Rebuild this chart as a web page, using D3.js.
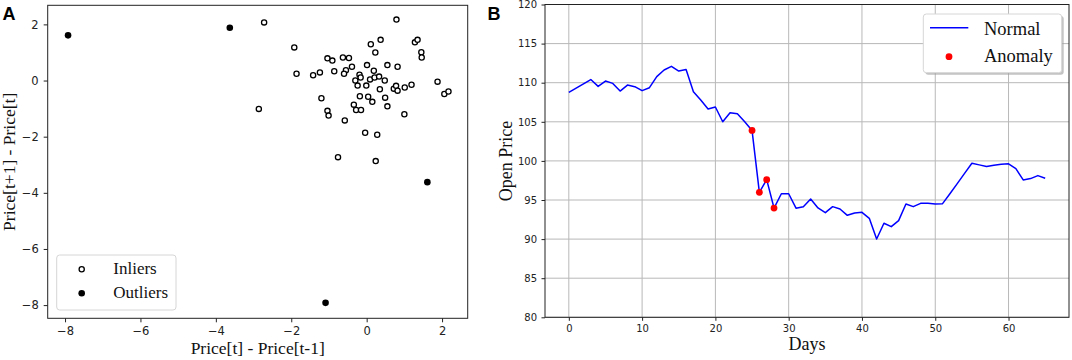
<!DOCTYPE html>
<html>
<head>
<meta charset="utf-8">
<script src="https://cdn.jsdelivr.net/npm/d3@7"></script>
<style>
  body { margin: 0; background: #fff; }
  .tick text { font-family: "DejaVu Sans", sans-serif; fill: #222; }
  .lbl { font-family: "Liberation Serif", "Times New Roman", serif; fill: #111; }
  .panel { font-family: "Liberation Sans", Arial, sans-serif; font-weight: bold; font-size: 18px; }
</style>
</head>
<body>
<div id="app"></div>
<script>
// panel A: lag scatter (price differences)
const inlierX = [-2.72, 0.79, -1.92, 0.37, 0.11, 0.23, 1.28, 1.35, 1.45, 1.46,
  -1.04, -0.91, -0.63, -0.47, -0.39, -0.55, -0.60, -0.86, -1.24, -1.42,
  -1.86, 0.01, 0.55, 0.82, 0.19, -0.19, -0.16, -0.30, -0.24, 0.09,
  0.21, 0.33, 0.48, -0.01, 0.35, 0.72, 0.78, 0.82, 1.01, 1.19,
  1.88, 2.06, 2.17, -1.20, -0.18, 0.04, 0.15, 0.49, 0.55, -0.34,
  -0.28, -0.15, -1.04, -1.01, -2.86, 1.00, -0.58, -0.04, 0.28, -0.76, 0.24];
const inlierY = [2.07, 2.17, 1.18, 1.45, 1.29, 1.00, 1.36, 1.45, 1.01, 0.82,
  0.79, 0.71, 0.82, 0.80, 0.49, 0.37, 0.24, 0.33, 0.29, 0.19,
  0.24, 0.55, 0.55, 0.49, 0.35, 0.21, 0.11, 0.00, -0.18, 0.04,
  0.11, 0.14, 0.00, -0.18, -0.31, -0.29, -0.19, -0.36, -0.25, -0.15,
  -0.04, -0.48, -0.39, -0.63, -0.56, -0.58, -0.76, -0.61, -0.92, -0.86,
  -1.05, -1.05, -1.08, -1.25, -1.01, -1.20, -1.42, -1.86, -1.93, -2.73, -2.87];
const outlierX = [-7.92, -3.63, 1.61, -1.09];
const outlierY = [1.61, 1.88, -3.62, -7.92];
const ticksA = [-8, -6, -4, -2, 0, 2];

// panel B: open price per day
const openPrice = [108.76, 109.3, 109.85, 110.4, 109.53, 110.21, 109.91, 108.93, 109.70, 109.49,
  108.98, 109.36, 110.77, 111.62, 112.09, 111.49, 111.70, 108.85, 107.78, 106.63,
  106.89, 105.01, 106.16, 106.04, 105.0, 103.9, 95.98, 97.6, 93.97, 95.8,
  95.8, 93.95, 94.15, 95.13, 93.98, 93.38, 94.15, 93.85, 93.04, 93.34,
  93.42, 92.66, 90.01, 92.02, 91.59, 92.36, 94.49, 94.15, 94.57, 94.57,
  94.49, 94.53, 95.8, 97.1, 98.4, 99.7, 99.49, 99.28, 99.45, 99.57,
  99.62, 99.02, 97.57, 97.74, 98.12, 97.78];
const anomalyDays = [25, 26, 27, 28];
const dayTicks = [0, 10, 20, 30, 40, 50, 60];
const priceTicks = [80, 85, 90, 95, 100, 105, 110, 115, 120];

let svg = d3.select("#app").append("svg")
    .attr("width", 1072)
    .attr("height", 360);

// ---------- A ----------
let xA = d3.scaleLinear().domain([-8.46, 2.68]).range([47.7, 467.7]);
let yA = d3.scaleLinear().domain([-8.47, 2.68]).range([318.3, 5.3]);

let gA = svg.append("g");

gA.append("g")
    .attr("transform", "translate(0,318.3)")
    .call(d3.axisBottom(xA).tickValues(ticksA).tickSize(4).tickPadding(5))
    .call(g => g.selectAll("text").style("font-size", "11.5px"));
gA.append("g")
    .attr("transform", "translate(47.7,0)")
    .call(d3.axisLeft(yA).tickValues(ticksA).tickSize(4).tickPadding(5))
    .call(g => g.selectAll("text").style("font-size", "11.5px"));
gA.selectAll(".domain").remove();
gA.selectAll(".tick line").attr("stroke", "#222");

gA.append("rect")
    .attr("x", 47.7).attr("y", 5.3)
    .attr("width", 420).attr("height", 313)
    .attr("fill", "none").attr("stroke", "#222").attr("stroke-width", 1);

let inliers = d3.zip(inlierX, inlierY);
let outliers = d3.zip(outlierX, outlierY);

gA.append("g").selectAll("circle")
    .data(inliers)
    .enter().append("circle")
        .attr("cx", d => xA(d[0]))
        .attr("cy", d => yA(d[1]))
        .attr("r", 2.6)
        .attr("fill", "#fff")
        .attr("stroke", "#000")
        .attr("stroke-width", 1.3);

gA.append("g").selectAll("circle")
    .data(outliers)
    .enter().append("circle")
        .attr("cx", d => xA(d[0]))
        .attr("cy", d => yA(d[1]))
        .attr("r", 3.3)
        .attr("fill", "#000");

// legend A
let legA = gA.append("g");
legA.append("rect")
    .attr("x", 56.7).attr("y", 255).attr("width", 119.3).attr("height", 55)
    .attr("rx", 3).attr("fill", "#fff").attr("fill-opacity", 0.85)
    .attr("stroke", "#d6d6d6");
legA.append("circle").attr("cx", 81.7).attr("cy", 269.3).attr("r", 2.6)
    .attr("fill", "#fff").attr("stroke", "#000").attr("stroke-width", 1.3);
legA.append("circle").attr("cx", 81.7).attr("cy", 293.3).attr("r", 3.3).attr("fill", "#000");
legA.append("text").attr("class", "lbl").attr("x", 113.3).attr("y", 273.5)
    .style("font-size", "17px").text("Inliers");
legA.append("text").attr("class", "lbl").attr("x", 113.3).attr("y", 298)
    .style("font-size", "17px").text("Outliers");

gA.append("text").attr("class", "lbl")
    .attr("x", 257.7).attr("y", 354)
    .attr("text-anchor", "middle").style("font-size", "17.5px")
    .text("Price[t] - Price[t-1]");
gA.append("text").attr("class", "lbl")
    .attr("transform", "translate(15,161.8) rotate(-90)")
    .attr("text-anchor", "middle").style("font-size", "17.5px")
    .text("Price[t+1] - Price[t]");

svg.append("text").attr("class", "panel").attr("x", 2.5).attr("y", 19.5).text("A");

// ---------- B ----------
let xB = d3.scaleLinear().domain([-3.25, 68.25]).range([545, 1069]);
let yB = d3.scaleLinear().domain([80, 120]).range([317.3, 4.5]);

let gB = svg.append("g");

// grid
gB.append("g").selectAll("line")
    .data(dayTicks)
    .enter().append("line")
        .attr("x1", d => xB(d)).attr("x2", d => xB(d))
        .attr("y1", 4.5).attr("y2", 317.3)
        .attr("stroke", "#b8b8b8").attr("stroke-width", 1);
gB.append("g").selectAll("line")
    .data(priceTicks)
    .enter().append("line")
        .attr("x1", 545).attr("x2", 1069)
        .attr("y1", d => yB(d)).attr("y2", d => yB(d))
        .attr("stroke", "#b8b8b8").attr("stroke-width", 1);

gB.append("g")
    .attr("transform", "translate(0,317.3)")
    .call(d3.axisBottom(xB).tickValues(dayTicks).tickSize(3.5).tickPadding(4.5))
    .call(g => g.selectAll("text").style("font-size", "10px"));
gB.append("g")
    .attr("transform", "translate(545,0)")
    .call(d3.axisLeft(yB).tickValues(priceTicks).tickSize(3.5).tickPadding(4.5))
    .call(g => g.selectAll("text").style("font-size", "10px"));
gB.selectAll(".domain").remove();
gB.selectAll(".tick line").attr("stroke", "#222");

gB.append("rect")
    .attr("x", 545).attr("y", 4.5)
    .attr("width", 524).attr("height", 312.8)
    .attr("fill", "none").attr("stroke", "#222").attr("stroke-width", 1);

let line = d3.line()
    .x((d, i) => xB(i))
    .y(d => yB(d));

gB.append("path")
    .datum(openPrice)
    .attr("d", line)
    .attr("fill", "none")
    .attr("stroke", "#0000ff")
    .attr("stroke-width", 1.5)
    .attr("stroke-linejoin", "round");

gB.append("g").selectAll("circle")
    .data(anomalyDays)
    .enter().append("circle")
        .attr("cx", d => xB(d))
        .attr("cy", d => yB(openPrice[d]))
        .attr("r", 3.4)
        .attr("fill", "#ff0000");

// legend B
let legB = gB.append("g");
legB.append("rect")
    .attr("x", 925.3).attr("y", 16).attr("width", 138.4).attr("height", 58.7)
    .attr("rx", 3).attr("fill", "#999").attr("fill-opacity", 0.6);
legB.append("rect")
    .attr("x", 923.3).attr("y", 14).attr("width", 138.4).attr("height", 58.7)
    .attr("rx", 3).attr("fill", "#fff")
    .attr("stroke", "#d6d6d6");
legB.append("line")
    .attr("x1", 930).attr("x2", 968.3).attr("y1", 27.7).attr("y2", 27.7)
    .attr("stroke", "#0000ff").attr("stroke-width", 1.5);
legB.append("circle").attr("cx", 949).attr("cy", 56.7).attr("r", 3.4).attr("fill", "#ff0000");
legB.append("text").attr("class", "lbl").attr("x", 984).attr("y", 34.5)
    .style("font-size", "18.5px").text("Normal");
legB.append("text").attr("class", "lbl").attr("x", 984).attr("y", 62)
    .style("font-size", "18.5px").text("Anomaly");

gB.append("text").attr("class", "lbl")
    .attr("x", 807).attr("y", 349.5)
    .attr("text-anchor", "middle").style("font-size", "18px")
    .text("Days");
gB.append("text").attr("class", "lbl")
    .attr("transform", "translate(512,161) rotate(-90)")
    .attr("text-anchor", "middle").style("font-size", "18px")
    .text("Open Price");

svg.append("text").attr("class", "panel").attr("x", 487.5).attr("y", 19.5).text("B");
</script>
</body>
</html>
